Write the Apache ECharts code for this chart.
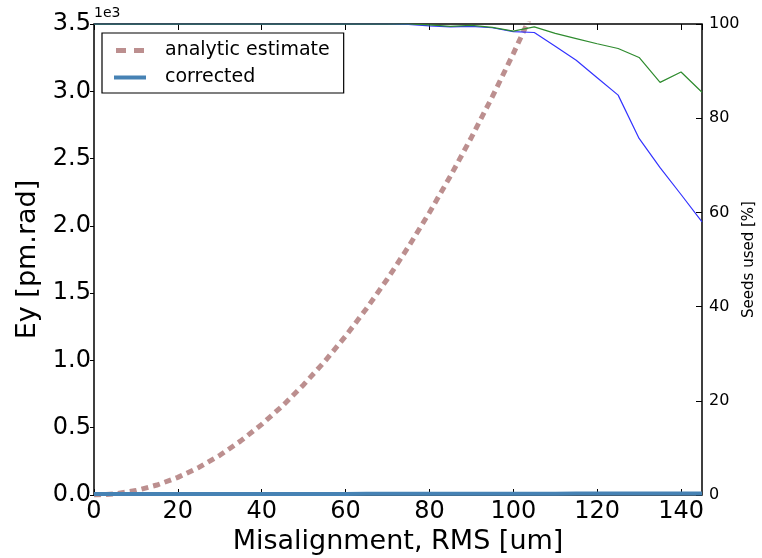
<!DOCTYPE html>
<html>
<head>
<meta charset="utf-8">
<script src="https://cdn.jsdelivr.net/npm/echarts@6/dist/echarts.min.js"></script>
<style>
  html, body { margin: 0; padding: 0; background: #fff; }
  #chart { width: 762px; height: 558px; }
</style>
</head>
<body>
<div id="chart"></div>
<script>
// misalignment RMS [um]
const seedX = [0, 5, 10, 15, 20, 25, 30, 35, 40, 45, 50, 55, 60, 65, 70, 75, 80, 85, 90, 95, 100, 105, 110, 115, 120, 125, 130, 135, 140, 145]
// Ey, units of 1e3 pm.rad
const analyticX = [0, 5, 10, 15, 20, 25, 30, 35, 40, 45, 50, 55, 60, 65, 70, 75, 80, 85, 90, 95, 100, 105]
const analyticEy = [0, 0.008, 0.033, 0.074, 0.131, 0.205, 0.295, 0.402, 0.525, 0.664, 0.82, 0.992, 1.181, 1.386, 1.607, 1.845, 2.099, 2.37, 2.657, 2.96, 3.28, 3.616]
const correctedEy = [0.008, 0.008, 0.008, 0.008, 0.008, 0.008, 0.008, 0.008, 0.008, 0.008, 0.008, 0.008, 0.008, 0.009, 0.009, 0.009, 0.009, 0.009, 0.009, 0.01, 0.01, 0.01, 0.01, 0.011, 0.011, 0.011, 0.012, 0.012, 0.012, 0.012]
// seeds used [%]
const seedsBlue = [100, 100, 100, 100, 100, 100, 100, 100, 100, 100, 100, 100, 100, 100, 100, 99.9, 99.6, 99.4, 99.5, 99.2, 98.4, 98.2, 95.3, 92.3, 88.6, 84.9, 75.7, 69.5, 63.8, 58]
const seedsGreen = [100, 100, 100, 100, 100, 100, 100, 100, 100, 100, 100, 100, 100, 100, 100, 100, 99.8, 99.5, 99.7, 99.3, 98.5, 99.4, 98.0, 96.9, 95.8, 94.8, 92.9, 87.6, 89.8, 85.5]

const pairs = (xs, ys) => xs.map((x, i) => [x, ys[i]])
const font = 'DejaVu Sans'
const tick = { inside: true, length: 6, lineStyle: { color: '#000' } }

const chart = echarts.init(document.getElementById('chart'))
chart.setOption({
  animation: false,
  textStyle: { fontFamily: font },
  grid: {
    left: 94, right: 60, top: 24, bottom: 63, outerBoundsMode: 'none',
    show: true, borderColor: '#000', borderWidth: 1.5, backgroundColor: 'transparent'
  },
  legend: {
    orient: 'vertical', left: 102, top: 33,
    borderColor: '#000', borderWidth: 1.2, borderRadius: 0,
    padding: [8, 14, 6, 12], itemGap: 8, itemWidth: 32, itemHeight: 5,
    textStyle: { fontSize: 19, color: '#000', padding: [0, 0, 0, 14] },
    data: [
      { name: 'analytic estimate', icon: 'path://M0,0h10v5h-10zM18,0h10v5h-10z', itemStyle: { color: '#bc8f8f' } },
      { name: 'corrected', icon: 'path://M0,0h32v4h-32z', itemStyle: { color: '#4682b4' } }
    ]
  },
  graphic: [{ type: 'text', left: 94, top: 6, style: { text: '1e3', fontSize: 14, fill: '#000', fontFamily: font } }],
  xAxis: [{
    type: 'value', min: 0, max: 145, interval: 20,
    name: 'Misalignment, RMS [um]', nameLocation: 'middle', nameGap: 32,
    nameTextStyle: { fontSize: 27, color: '#000' },
    axisLine: { show: false, onZero: false }, splitLine: { show: false },
    axisTick: tick,
    axisLabel: { fontSize: 24, color: '#000', margin: 5 }
  }, {
    type: 'value', min: 0, max: 145, interval: 20, position: 'top',
    axisLine: { show: false, onZero: false }, splitLine: { show: false }, axisLabel: { show: false },
    axisTick: tick
  }],
  yAxis: [{
    type: 'value', min: 0, max: 3.5, interval: 0.5, position: 'left',
    name: 'Ey [pm.rad]', nameLocation: 'middle', nameGap: 52, nameRotate: 90,
    nameTextStyle: { fontSize: 27, color: '#000' },
    axisLine: { show: false, onZero: false }, splitLine: { show: false },
    axisTick: { inside: false, length: 4, lineStyle: { color: '#000' } },
    axisLabel: { fontSize: 24, color: '#000', margin: 3, formatter: v => v.toFixed(1) }
  }, {
    type: 'value', min: 0, max: 100, interval: 20, position: 'right',
    name: 'Seeds used [%]', nameLocation: 'middle', nameGap: 40, nameRotate: 90, nameMoveOverlap: false,
    nameTextStyle: { fontSize: 15, color: '#000' },
    axisLine: { show: false, onZero: false }, splitLine: { show: false },
    axisTick: tick,
    axisLabel: { fontSize: 16, color: '#000', margin: 7 }
  }],
  series: [{
    name: 'analytic estimate', type: 'line', xAxisIndex: 0, yAxisIndex: 0,
    data: pairs(analyticX, analyticEy), symbol: 'none', clip: true,
    lineStyle: { color: '#bc8f8f', width: 5, type: [7, 5] }, itemStyle: { color: '#bc8f8f' }
  }, {
    name: 'corrected', type: 'line', xAxisIndex: 0, yAxisIndex: 0,
    data: pairs(seedX, correctedEy), symbol: 'none',
    lineStyle: { color: '#4682b4', width: 4 }, itemStyle: { color: '#4682b4' }
  }, {
    name: 'seeds blue', type: 'line', xAxisIndex: 0, yAxisIndex: 1,
    data: pairs(seedX, seedsBlue), symbol: 'none',
    lineStyle: { color: '#3333ff', width: 1.2 }
  }, {
    name: 'seeds green', type: 'line', xAxisIndex: 0, yAxisIndex: 1,
    data: pairs(seedX, seedsGreen), symbol: 'none',
    lineStyle: { color: '#2e8b2e', width: 1.2 }
  }]
})
</script>
</body>
</html>
